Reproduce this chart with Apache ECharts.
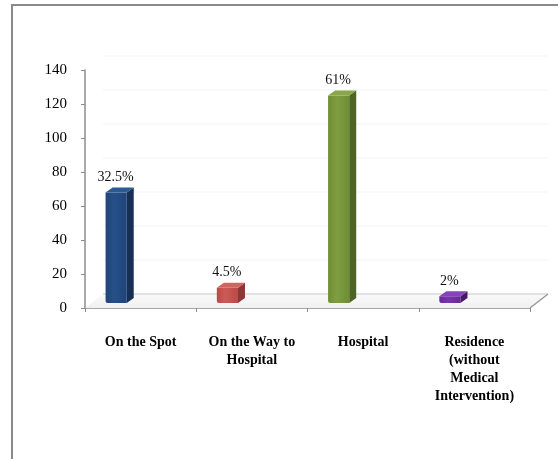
<!DOCTYPE html>
<html>
<head>
<meta charset="utf-8">
<script src="https://cdn.jsdelivr.net/npm/echarts@6/dist/echarts.min.js"></script>
<style>html,body{margin:0;padding:0;background:#fff;}#c{width:558px;height:459px;}</style>
</head>
<body>
<div id="c"></div>
<script>
const categories = ['On the Spot', 'On the Way to\nHospital', 'Hospital', 'Residence\n(without\nMedical\nIntervention)'];
const counts = [65, 9, 122, 4];
const percentLabels = ['32.5%', '4.5%', '61%', '2%'];
const yMin = 0, yMax = 140, yStep = 20;
const gridValues = [20, 40, 60, 80, 100, 120, 140];

const barStyles = [
  { front: ['#27508a', '#1f4478'], side: '#172f55', top: '#2c5894' },
  { front: ['#cc5a57', '#bb4a47'], side: '#8e3836', top: '#d06461' },
  { front: ['#7f9e40', '#6f8d34'], side: '#4d6424', top: '#88a64a' },
  { front: ['#7a35ad', '#682a98'], side: '#45186a', top: '#8644b8' }
];
const SERIF = '"Liberation Serif", "Times New Roman", serif';
const DX = 7, DY = -5;
const FDX = 18, FDY = -14;

const chart = echarts.init(document.getElementById('c'), null, { renderer: 'canvas' });
chart.setOption({
  backgroundColor: '#fff',
  animation: false,
  graphic: [{
    type: 'rect', z: 100, silent: true,
    shape: { x: 12, y: 5, width: 600, height: 500 },
    style: { fill: 'none', stroke: '#8a8a8a', lineWidth: 2 }
  }],
  grid: { left: 85, right: 28, top: 70, bottom: 151 },
  xAxis: {
    type: 'category',
    data: categories,
    axisLine: { lineStyle: { color: '#8c8c8c', width: 1.5 } },
    axisTick: { show: true, length: 4, lineStyle: { color: '#8c8c8c' } },
    axisLabel: {
      interval: 0, margin: 25, color: '#000',
      fontFamily: SERIF, fontWeight: 'bold', fontSize: 14, lineHeight: 18
    },
    splitLine: { show: false }
  },
  yAxis: {
    type: 'value', min: yMin, max: yMax, interval: yStep,
    axisLine: { show: true, lineStyle: { color: '#8c8c8c', width: 1.5 } },
    axisTick: { show: true, length: 4, lineStyle: { color: '#8c8c8c' } },
    axisLabel: { color: '#000', fontFamily: SERIF, fontSize: 15, margin: 18 },
    splitLine: { show: false }
  },
  series: [
    {
      type: 'custom', z: 1, silent: true,
      data: gridValues.map(v => [0, v]),
      renderItem: function (params, api) {
        const cs = params.coordSys;
        const v = api.value(1);
        const y = api.coord([0, v])[1] + FDY;
        return {
          type: 'line',
          shape: { x1: cs.x + FDX, y1: y, x2: cs.x + cs.width + FDX, y2: y },
          style: { stroke: '#f3f3f3', lineWidth: 1 }
        };
      }
    },
    {
      type: 'custom', z: 2, silent: true,
      data: [[0, 0]],
      renderItem: function (params, api) {
        const cs = params.coordSys;
        const y0 = api.coord([0, 0])[1];
        const xl = cs.x, xr = cs.x + cs.width;
        return {
          type: 'group',
          children: [
            {
              type: 'polygon',
              shape: { points: [[xl, y0], [xr, y0], [xr + FDX, y0 + FDY], [xl + FDX, y0 + FDY]] },
              style: {
                fill: new echarts.graphic.LinearGradient(0, 0, 0, 1, [
                  { offset: 0, color: '#fafafa' }, { offset: 1, color: '#f0f0f0' }
                ])
              }
            },
            {
              type: 'line',
              shape: { x1: xl + FDX, y1: y0 + FDY, x2: xr + FDX, y2: y0 + FDY },
              style: { stroke: '#d8d8d8', lineWidth: 1.5 }
            },
            {
              type: 'line',
              shape: { x1: xr, y1: y0, x2: xr + FDX, y2: y0 + FDY },
              style: { stroke: '#9a9a9a', lineWidth: 1.5 }
            }
          ]
        };
      }
    },
    {
      type: 'custom', z: 3,
      data: counts.map((v, i) => [i, v]),
      renderItem: function (params, api) {
        const i = api.value(0), v = api.value(1);
        const p0 = api.coord([i, 0]);
        const p1 = api.coord([i, v]);
        const bw = api.size([1, 0])[0];
        const cx = p0[0];
        const left = cx - bw * 0.315, right = cx - bw * 0.125;
        const bot = p0[1] - 5, top = p1[1] - 5;
        const st = barStyles[i];
        return {
          type: 'group',
          children: [
            {
              type: 'rect',
              shape: { x: left, y: top, width: right - left, height: bot - top, r: [0, 0, 0, 2] },
              style: {
                fill: new echarts.graphic.LinearGradient(0, 0, 1, 0, [
                  { offset: 0, color: st.front[1] },
                  { offset: 0.4, color: st.front[0] },
                  { offset: 1, color: st.front[1] }
                ])
              }
            },
            {
              type: 'polygon',
              shape: { points: [[right, bot], [right + DX, bot + DY], [right + DX, top + DY], [right, top]] },
              style: { fill: st.side }
            },
            {
              type: 'polygon',
              shape: { points: [[left, top], [left + DX, top + DY], [right + DX, top + DY], [right, top]] },
              style: { fill: st.top }
            },
            {
              type: 'text',
              style: {
                x: cx - bw * 0.225, y: top - 15,
                text: percentLabels[i],
                textAlign: 'center', textVerticalAlign: 'middle',
                font: '14px ' + SERIF, fill: '#111'
              }
            }
          ]
        };
      }
    }
  ]
});
</script>
</body>
</html>
